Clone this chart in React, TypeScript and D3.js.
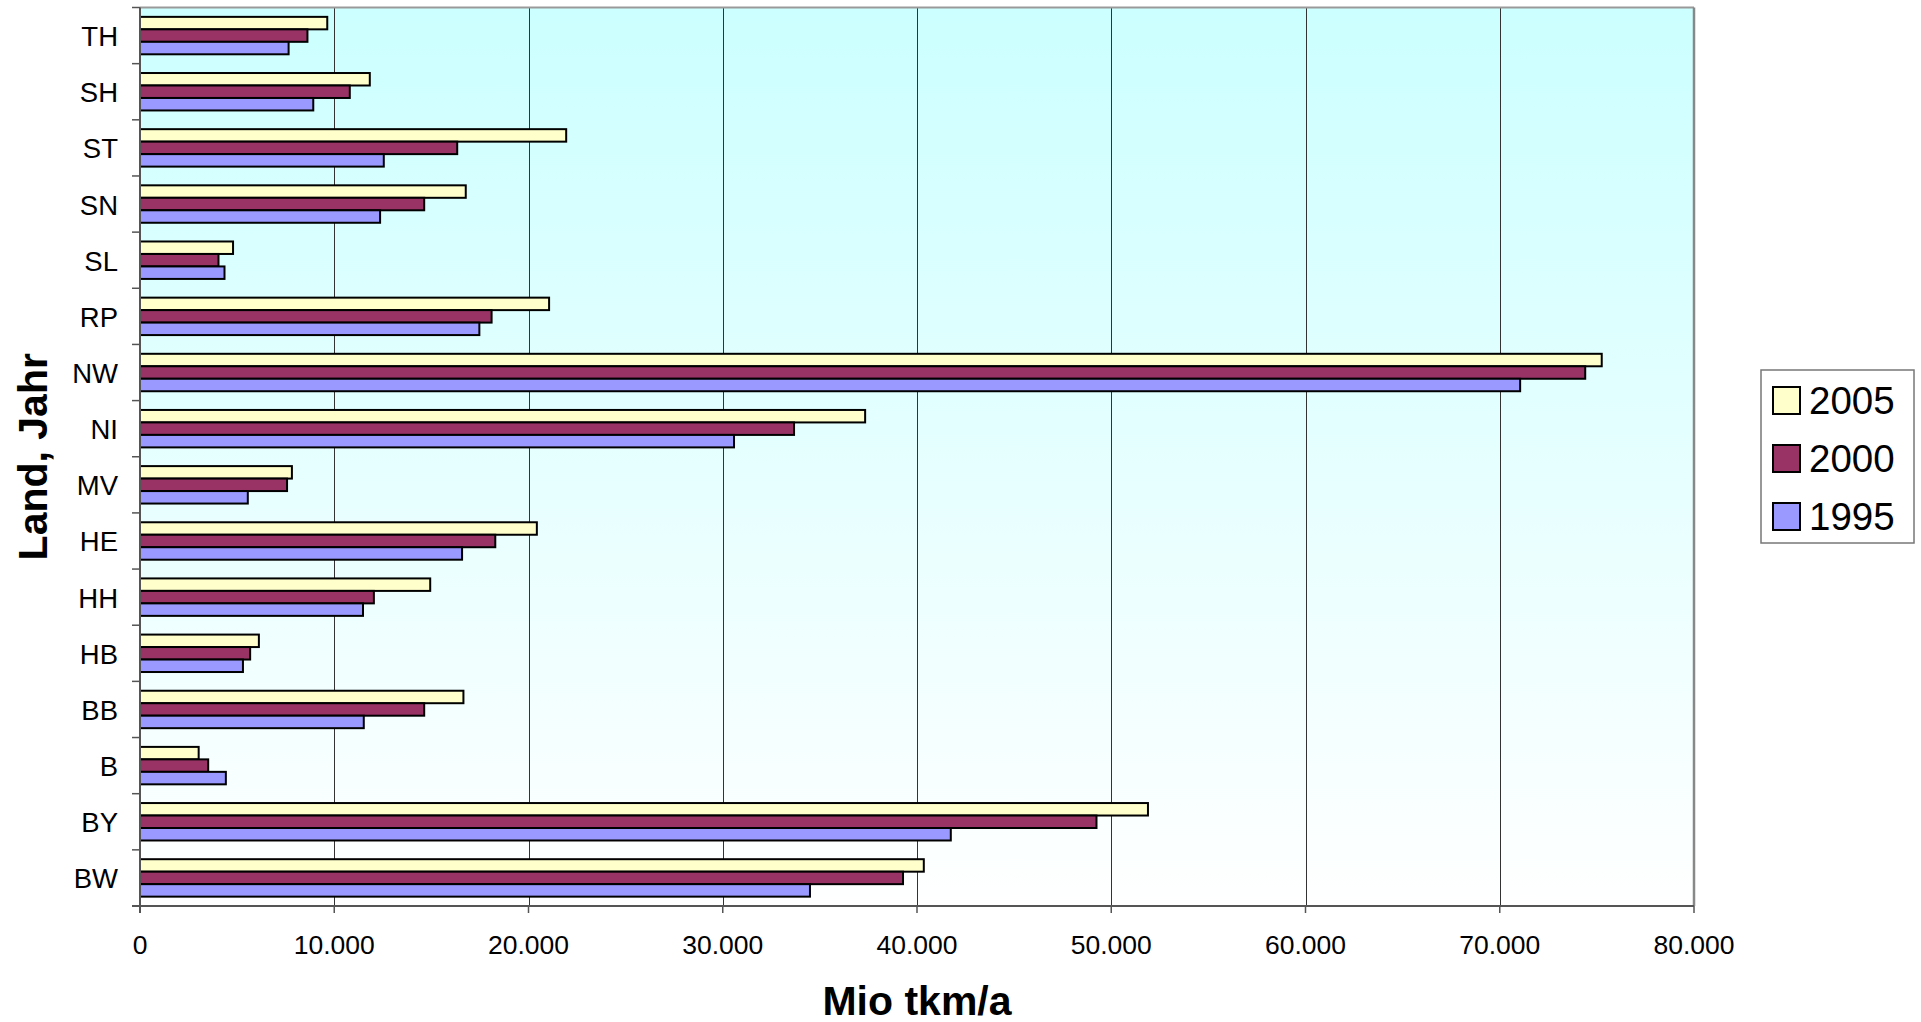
import React from "react";
import * as d3 from "d3";

const categories = ["TH", "SH", "ST", "SN", "SL", "RP", "NW", "NI", "MV", "HE", "HH", "HB", "BB", "B", "BY", "BW"];
const v2005 = [9640, 11830, 21940, 16770, 4790, 21060, 75250, 37330, 7820, 20430, 14940, 6120, 16650, 3020, 51890, 40350];
const v2000 = [8620, 10800, 16330, 14630, 4040, 18100, 74400, 33670, 7570, 18290, 12040, 5670, 14630, 3510, 49240, 39280];
const v1995 = [7650, 8920, 12550, 12360, 4350, 17470, 71050, 30580, 5550, 16580, 11480, 5300, 11520, 4420, 41740, 34490];
const seriesNames = ["2005", "2000", "1995"];
const seriesColors = ["#FFFFCC", "#993366", "#9999FF"];
const xTicks = [0, 10000, 20000, 30000, 40000, 50000, 60000, 70000, 80000];

const W = 1921;
const H = 1022;
const left = 140;
const right = 1694;
const top = 7.5;
const bottom = 906;
const FONT = "'Liberation Sans', Arial, Helvetica, sans-serif";

export default function App() {
  const series = [v2005, v2000, v1995];
  const x = d3.scaleLinear().domain([0, 80000]).range([left, right]);
  const y = d3.scaleBand<string>().domain(categories).range([top, bottom]).paddingInner(0).paddingOuter(0);
  const band = y.bandwidth();
  const barH = band / 4.5;
  const offset = barH * 0.75;
  const fmt = (v: number) => d3.format(",")(v).replace(/,/g, ".");

  return (
    <svg width={W} height={H} style={{ position: "absolute", left: 0, top: 0, background: "#fff" }}>
      <defs>
        <linearGradient id="bg" x1="0" y1="0" x2="0" y2="1">
          <stop offset="0" stopColor="#CCFFFF" />
          <stop offset="1" stopColor="#FFFFFF" />
        </linearGradient>
      </defs>
      <rect x={left} y={top} width={right - left} height={bottom - top} fill="url(#bg)" />
      {xTicks.slice(1, -1).map((t) => (
        <line key={"g" + t} x1={Math.round(x(t)) + 0.5} x2={Math.round(x(t)) + 0.5} y1={top} y2={bottom} stroke="#333" strokeWidth={1} />
      ))}
      {/* plot border top/right */}
      <line x1={left} x2={right} y1={top} y2={top} stroke="#999" strokeWidth={2} />
      <line x1={right} x2={right} y1={top} y2={bottom} stroke="#888" strokeWidth={2.5} />
      {/* bars */}
      {categories.map((c, i) => (
        <g key={c}>
          {series.map((s, k) => (
            <rect
              key={k}
              x={x(0)}
              y={(y(c) as number) + offset + k * barH}
              width={x(s[i]) - x(0)}
              height={barH}
              fill={seriesColors[k]}
              stroke="#000"
              strokeWidth={2}
            />
          ))}
        </g>
      ))}
      {/* axes */}
      <line x1={left} x2={left} y1={top} y2={bottom + 7} stroke="#555" strokeWidth={2} />
      <line x1={left - 8} x2={right} y1={bottom} y2={bottom} stroke="#555" strokeWidth={2} />
      {categories.map((c) => (
        <line key={"t" + c} x1={left - 8} x2={left} y1={y(c) as number} y2={y(c) as number} stroke="#555" strokeWidth={1.5} />
      ))}
      {xTicks.map((t) => (
        <line key={"xt" + t} x1={x(t)} x2={x(t)} y1={bottom} y2={bottom + 7} stroke="#555" strokeWidth={1.5} />
      ))}
      {categories.map((c) => (
        <text
          key={"l" + c}
          x={118}
          y={(y(c) as number) + band / 2 + 1}
          textAnchor="end"
          dominantBaseline="central"
          fontFamily={FONT}
          fontSize={27.5}
          fill="#000"
        >
          {c}
        </text>
      ))}
      {xTicks.map((t) => (
        <text key={"xl" + t} x={x(t)} y={954} textAnchor="middle" fontFamily={FONT} fontSize={26.5} fill="#000">
          {fmt(t)}
        </text>
      ))}
      <text x={(left + right) / 2} y={1015} textAnchor="middle" fontFamily={FONT} fontSize={41} fontWeight="bold">
        Mio tkm/a
      </text>
      <text
        transform={`translate(47, ${(top + bottom) / 2}) rotate(-90)`}
        textAnchor="middle"
        fontFamily={FONT}
        fontSize={41}
        fontWeight="bold"
      >
        Land, Jahr
      </text>
      {/* legend */}
      <rect x={1761} y={370} width={153} height={173} fill="#fff" stroke="#777" strokeWidth={1.5} />
      {seriesNames.map((n, k) => (
        <g key={n}>
          <rect x={1773} y={387 + k * 58} width={27} height={27} fill={seriesColors[k]} stroke="#000" strokeWidth={2} />
          <text x={1809} y={414 + k * 58} fontFamily={FONT} fontSize={38.5} fill="#000">
            {n}
          </text>
        </g>
      ))}
    </svg>
  );
}
